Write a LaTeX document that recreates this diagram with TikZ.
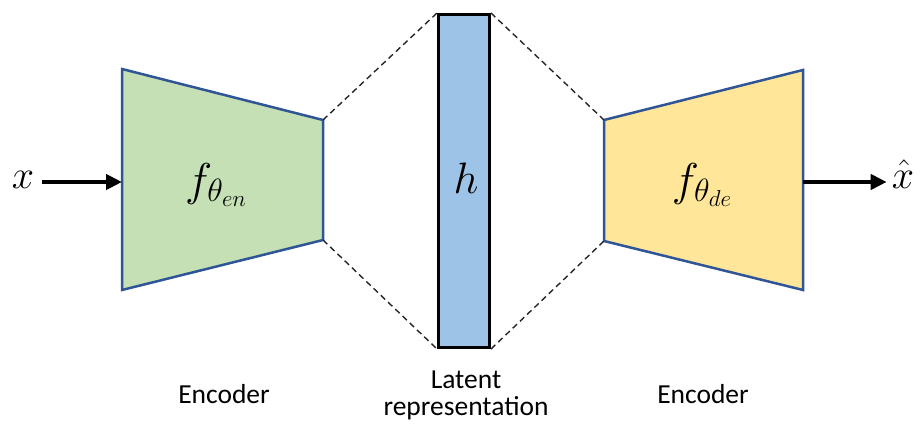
\RequirePackage{fix-cm}
\documentclass[tikz,border=0pt]{standalone}
\usepackage{fontspec}
\setmainfont{Carlito}
\usetikzlibrary{arrows.meta}
\definecolor{encfill}{RGB}{197,224,180}
\definecolor{decfill}{RGB}{255,230,153}
\definecolor{edgeblue}{RGB}{47,85,151}
\definecolor{latentfill}{RGB}{157,195,230}
\tikzset{
  block/.style={draw=edgeblue, line width=2.5pt, line join=miter},
  link/.style={dashed, dash pattern=on 6pt off 4pt, line width=1.4pt, black!85},
  flow/.style={line width=4pt, -{Triangle[length=16pt,width=15pt]}},
  label/.style={font=\fontsize{27.5}{27}\selectfont, inner sep=0pt, anchor=base},
  bigmath/.style={font=\fontsize{#1}{#1}\selectfont, inner sep=0pt, anchor=base},
}
\begin{document}
\begin{tikzpicture}[x=1pt, y=-1pt]
  \useasboundingbox (0,0) rectangle (920,425);

  % encoder corners
  \coordinate (e1) at (122,69);
  \coordinate (e2) at (323,120);
  \coordinate (e3) at (323,240);
  \coordinate (e4) at (122,290);
  \coordinate (ein) at (122,182);
  % decoder corners
  \coordinate (d1) at (604,120);
  \coordinate (d2) at (803,70);
  \coordinate (d3) at (803,290);
  \coordinate (d4) at (604,241);
  \coordinate (dout) at (803,182);

  \fill[encfill] (e1) -- (e2) -- (e3) -- (e4) -- cycle;
  \draw[block] (e1) -- (e2) -- (e3) -- (e4) -- cycle;
  \fill[decfill] (d1) -- (d2) -- (d3) -- (d4) -- cycle;
  \draw[block] (d1) -- (d2) -- (d3) -- (d4) -- cycle;

  % latent code
  \node[draw=black, fill=latentfill, line width=3pt, minimum width=51pt,
        minimum height=333pt, inner sep=0pt] (h) at (464,181) {};
  \node[bigmath=44] (hlab) at (466,193) {$h$};

  \draw[link] (e2) -- (h.north west);
  \draw[link] (e3) -- (h.south west);
  \draw[link] (h.north east) -- (d1);
  \draw[link] (h.south east) -- (d4);

  % functions
  \node[bigmath=46] (fen) at (216,195) {$f_{\theta_{en}}$};
  \node[bigmath=46] (fde) at (702,195) {$f_{\theta_{de}}$};

  % input and output
  \node[bigmath=40] (x) at (23,188) {$x$};
  \node[bigmath=40] (xhat) at (903,188) {$\hat{x}$};
  \draw[flow] (x.east |- ein) ++(8pt,0) -- (ein);
  \draw[flow] (dout) -- ([xshift=-5pt]xhat.west |- dout);

  % captions
  \node[label] (encl) at (224,403) {Encoder};
  \node[label, align=center] (latl) at (466,415) {Latent\\representation};
  \node[label] (decl) at (703,403) {Encoder};
\end{tikzpicture}
\end{document}
